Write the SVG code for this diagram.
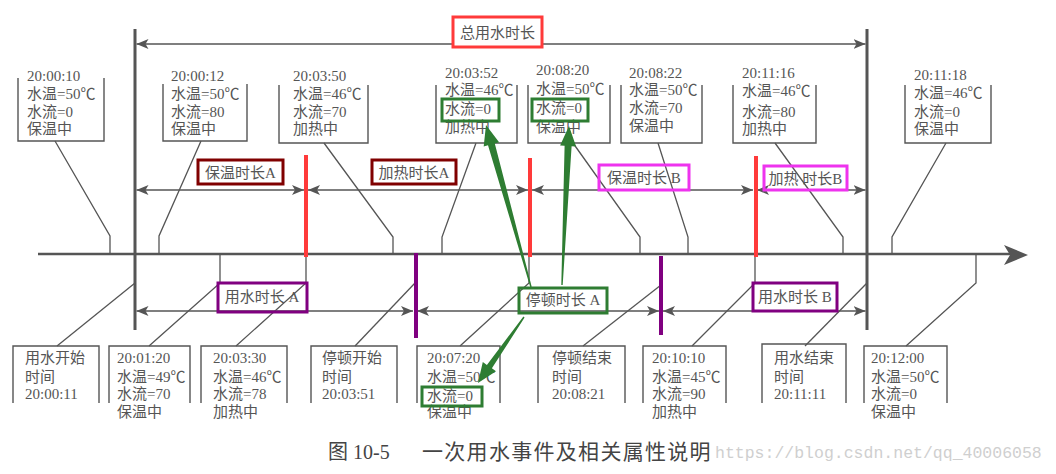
<svg xmlns="http://www.w3.org/2000/svg" width="1056" height="474" viewBox="0 0 1056 474">
<defs>
<marker id="ah" viewBox="0 0 12 10" refX="12" refY="5" markerWidth="12" markerHeight="10" markerUnits="userSpaceOnUse" orient="auto-start-reverse">
<path d="M0,0 L12,5 L0,10 L3,5 Z" fill="#555"/>
</marker>
</defs>
<style>
text{font-family:"Liberation Serif","Noto Sans CJK SC",serif;font-size:15px;fill:#555}
.box{fill:none;stroke:#555;stroke-width:1.4}
.ld{fill:none;stroke:#555;stroke-width:1.3}
.dur{stroke:#555;stroke-width:1.5;marker-start:url(#ah);marker-end:url(#ah)}
.thick{stroke:#555;stroke-width:3}
.red{stroke:#ff3a3a;stroke-width:4}
.pur{stroke:#800080;stroke-width:4}
.fdr{fill:none;stroke:#800000;stroke-width:3}
.fmg{fill:none;stroke:#ee33ee;stroke-width:3}
.fpu{fill:none;stroke:#800080;stroke-width:3}
.fgr{fill:none;stroke:#2e7d32;stroke-width:3}
.garr{fill:#2e7d32}
</style>
<rect width="1056" height="474" fill="#fff"/>

<g id="connectors">
<!-- main axis -->
<line x1="38" y1="254" x2="1012" y2="254" stroke="#555" stroke-width="2.5"/>
<path d="M1028,255 L1004,245 L1010,255 L1004,265 Z" fill="#555"/>
<!-- boundary verticals -->
<line class="thick" x1="135" y1="29" x2="135" y2="330"/>
<line class="thick" x1="867" y1="29" x2="867" y2="330"/>
<!-- duration lines -->
<line class="dur" x1="136.5" y1="44" x2="865.5" y2="44"/>
<line class="dur" x1="136.5" y1="190" x2="304" y2="190"/>
<line class="dur" x1="308" y1="190" x2="528" y2="190"/>
<line class="dur" x1="532" y1="190" x2="753" y2="190"/>
<line class="dur" x1="757" y1="190" x2="865.5" y2="190"/>
<line class="dur" x1="136.5" y1="311" x2="413" y2="311"/>
<line class="dur" x1="417" y1="311" x2="659" y2="311"/>
<line class="dur" x1="663" y1="311" x2="865.5" y2="311"/>
<!-- top leaders -->
<polyline class="ld" points="55,141 110,236 110,254"/>
<polyline class="ld" points="201,141 159,236 159,254"/>
<polyline class="ld" points="324,143 393,237 393,254"/>
<polyline class="ld" points="476,143 442,237 442,254"/>
<polyline class="ld" points="573,143 640,237 640,254"/>
<polyline class="ld" points="658,143 688,237 688,254"/>
<polyline class="ld" points="775,143 843,237 843,254"/>
<polyline class="ld" points="946,143 892,237 892,254"/>
<!-- bottom leaders -->
<polyline class="ld" points="57,346 135,283"/>
<polyline class="ld" points="149,346 220,283 220,254"/>
<polyline class="ld" points="236,346 306,283 306,254"/>
<polyline class="ld" points="355,346 415,283"/>
<polyline class="ld" points="460,346 529,283 529,254"/>
<polyline class="ld" points="583,346 661,285"/>
<polyline class="ld" points="692,346 755,283 755,254"/>
<polyline class="ld" points="805,346 867,283"/>
<polyline class="ld" points="906,346 976,283 976,254"/>
<!-- coloured markers -->
<line class="red" x1="306" y1="155" x2="306" y2="257"/>
<line class="red" x1="530" y1="158" x2="530" y2="257"/>
<line class="red" x1="756" y1="156" x2="756" y2="257"/>
<line class="pur" x1="416" y1="253" x2="416" y2="338"/>
<line class="pur" x1="661" y1="256" x2="661" y2="335"/>
</g>

<g id="label-total">
<rect class="box" x="453" y="17" width="89" height="30" style="stroke:#ff3a3a;stroke-width:3;fill:#fff"/>
<text x="497.5" y="38" text-anchor="middle">总用水时长</text>
</g>
<g id="label-bwA"><rect class="fdr" x="198" y="160" width="85" height="24" fill="#fff"/><text x="240.5" y="178" text-anchor="middle">保温时长A</text></g>
<g id="label-jrA"><rect class="fdr" x="372" y="160" width="84" height="24"/><text x="414" y="178" text-anchor="middle">加热时长A</text></g>
<g id="label-bwB"><rect class="fmg" x="599" y="165" width="90" height="25"/><text x="644" y="183" text-anchor="middle">保温时长 B</text></g>
<g id="label-jrB"><rect class="fmg" x="764" y="166" width="83" height="24"/><text x="805.5" y="184" text-anchor="middle">加热 时长B</text></g>
<g id="label-ysA"><rect class="fpu" x="218" y="283" width="89" height="29"/><text x="262" y="302" text-anchor="middle">用水时长 A</text></g>
<g id="label-tdA"><rect class="fgr" x="519" y="288" width="88" height="25"/><text x="563" y="305" text-anchor="middle">停顿时长 A</text></g>
<g id="label-ysB"><rect class="fpu" x="753" y="283" width="84" height="28"/><text x="795" y="302" text-anchor="middle">用水时长 B</text></g>

<g id="t1"><polyline class="box" points="18,78 18,141 104,141 104,78"/>
<text x="27" y="81">20:00:10</text><text x="27" y="99">水温=50℃</text><text x="27" y="117">水流=0</text><text x="27" y="134">保温中</text></g>
<g id="t2"><polyline class="box" points="163,84 163,141 247,141 247,84"/>
<text x="171" y="81">20:00:12</text><text x="171" y="99">水温=50℃</text><text x="171" y="117">水流=80</text><text x="171" y="134">保温中</text></g>
<g id="t3"><polyline class="box" points="279,85 279,143 368,143 368,85"/>
<text x="293" y="81">20:03:50</text><text x="293" y="99">水温=46℃</text><text x="293" y="117">水流=70</text><text x="293" y="134">加热中</text></g>
<g id="t4"><polyline class="box" points="436,85 436,143 517,143 517,85"/>
<text x="445" y="78">20:03:52</text><text x="445" y="95">水温=46℃</text><text x="445" y="114">水流=0</text><text x="445" y="132">加热中</text>
<rect class="fgr" x="442" y="99" width="57" height="22"/></g>
<g id="t5"><polyline class="box" points="528,85 528,143 610,143 610,85"/>
<text x="536" y="75">20:08:20</text><text x="536" y="94">水温=50℃</text><text x="536" y="113">水流=0</text><text x="536" y="132">保温中</text>
<rect class="fgr" x="532" y="99" width="56" height="22"/></g>
<g id="t6"><polyline class="box" points="621,85 621,143 702,143 702,85"/>
<text x="629" y="78">20:08:22</text><text x="629" y="95">水温=50℃</text><text x="629" y="113">水流=70</text><text x="629" y="131">保温中</text></g>
<g id="t7"><polyline class="box" points="733,85 733,143 816,143 816,85"/>
<text x="742" y="78">20:11:16</text><text x="742" y="96">水温=46℃</text><text x="742" y="117">水流=80</text><text x="742" y="134">加热中</text></g>
<g id="t8"><polyline class="box" points="905,85 905,143 991,143 991,85"/>
<text x="914" y="80">20:11:18</text><text x="914" y="98">水温=46℃</text><text x="914" y="117">水流=0</text><text x="914" y="134">保温中</text></g>

<g id="b1"><polyline class="box" points="13,403 13,346 99,346 99,403"/>
<text x="25" y="363">用水开始</text><text x="25" y="382">时间</text><text x="25" y="399">20:00:11</text></g>
<g id="b2"><polyline class="box" points="109,403 109,346 190,346 190,403"/>
<text x="117" y="363">20:01:20</text><text x="117" y="382">水温=49℃</text><text x="117" y="399">水流=70</text><text x="117" y="417">保温中</text></g>
<g id="b3"><polyline class="box" points="201,403 201,346 287,346 287,403"/>
<text x="213" y="363">20:03:30</text><text x="213" y="382">水温=46℃</text><text x="213" y="399">水流=78</text><text x="213" y="417">加热中</text></g>
<g id="b4"><polyline class="box" points="311,403 311,346 397,346 397,403"/>
<text x="322" y="363">停顿开始</text><text x="322" y="382">时间</text><text x="322" y="399">20:03:51</text></g>
<g id="b5"><polyline class="box" points="417,403 417,346 500,346 500,403"/>
<text x="427" y="363">20:07:20</text><text x="427" y="382">水温=50℃</text><text x="427" y="401">水流=0</text><text x="427" y="417">保温中</text>
<rect class="fgr" x="422" y="387" width="60" height="19"/></g>
<g id="b6"><polyline class="box" points="538,403 538,346 625,346 625,403"/>
<text x="552" y="363">停顿结束</text><text x="552" y="382">时间</text><text x="552" y="399">20:08:21</text></g>
<g id="b7"><polyline class="box" points="643,403 643,346 726,346 726,403"/>
<text x="652" y="363">20:10:10</text><text x="652" y="382">水温=45℃</text><text x="652" y="399">水流=90</text><text x="652" y="417">加热中</text></g>
<g id="b8"><polyline class="box" points="762,403 762,344 846,344 846,403"/>
<text x="774" y="363">用水结束</text><text x="774" y="382">时间</text><text x="774" y="399">20:11:11</text></g>
<g id="b9"><polyline class="box" points="864,403 864,346 947,346 947,403"/>
<text x="871" y="363">20:12:00</text><text x="871" y="382">水温=50℃</text><text x="871" y="399">水流=0</text><text x="871" y="417">保温中</text></g>

<g id="green-arrows">
<polygon class="garr" points="530.3,287.2 488.0,145.2 483.7,146.4 486,125 499.1,142.2 494.8,143.4 531.7,286.8"/>
<polygon class="garr" points="561.3,285 564.6,145.8 560.1,145.6 569,126 576.1,146.4 571.6,146.2 562.7,285"/>
<polygon class="garr" points="523.4,316.6 486.9,364.9 482.8,362.0 478,383 496.0,371.2 491.9,368.3 524.6,317.4"/>
</g>

<g id="caption">
<text x="328" y="459" style="font-size:20px;fill:#444">图 10-5</text>
<text x="422" y="459" style="font-size:21px;fill:#444;letter-spacing:1.3px">一次用水事件及相关属性说明</text>
<text x="715" y="458" style="font-family:'Liberation Mono',monospace;font-size:16.5px;fill:#cfcfcf">https://blog.csdn.net/qq_40006058</text>
</g>
</svg>
